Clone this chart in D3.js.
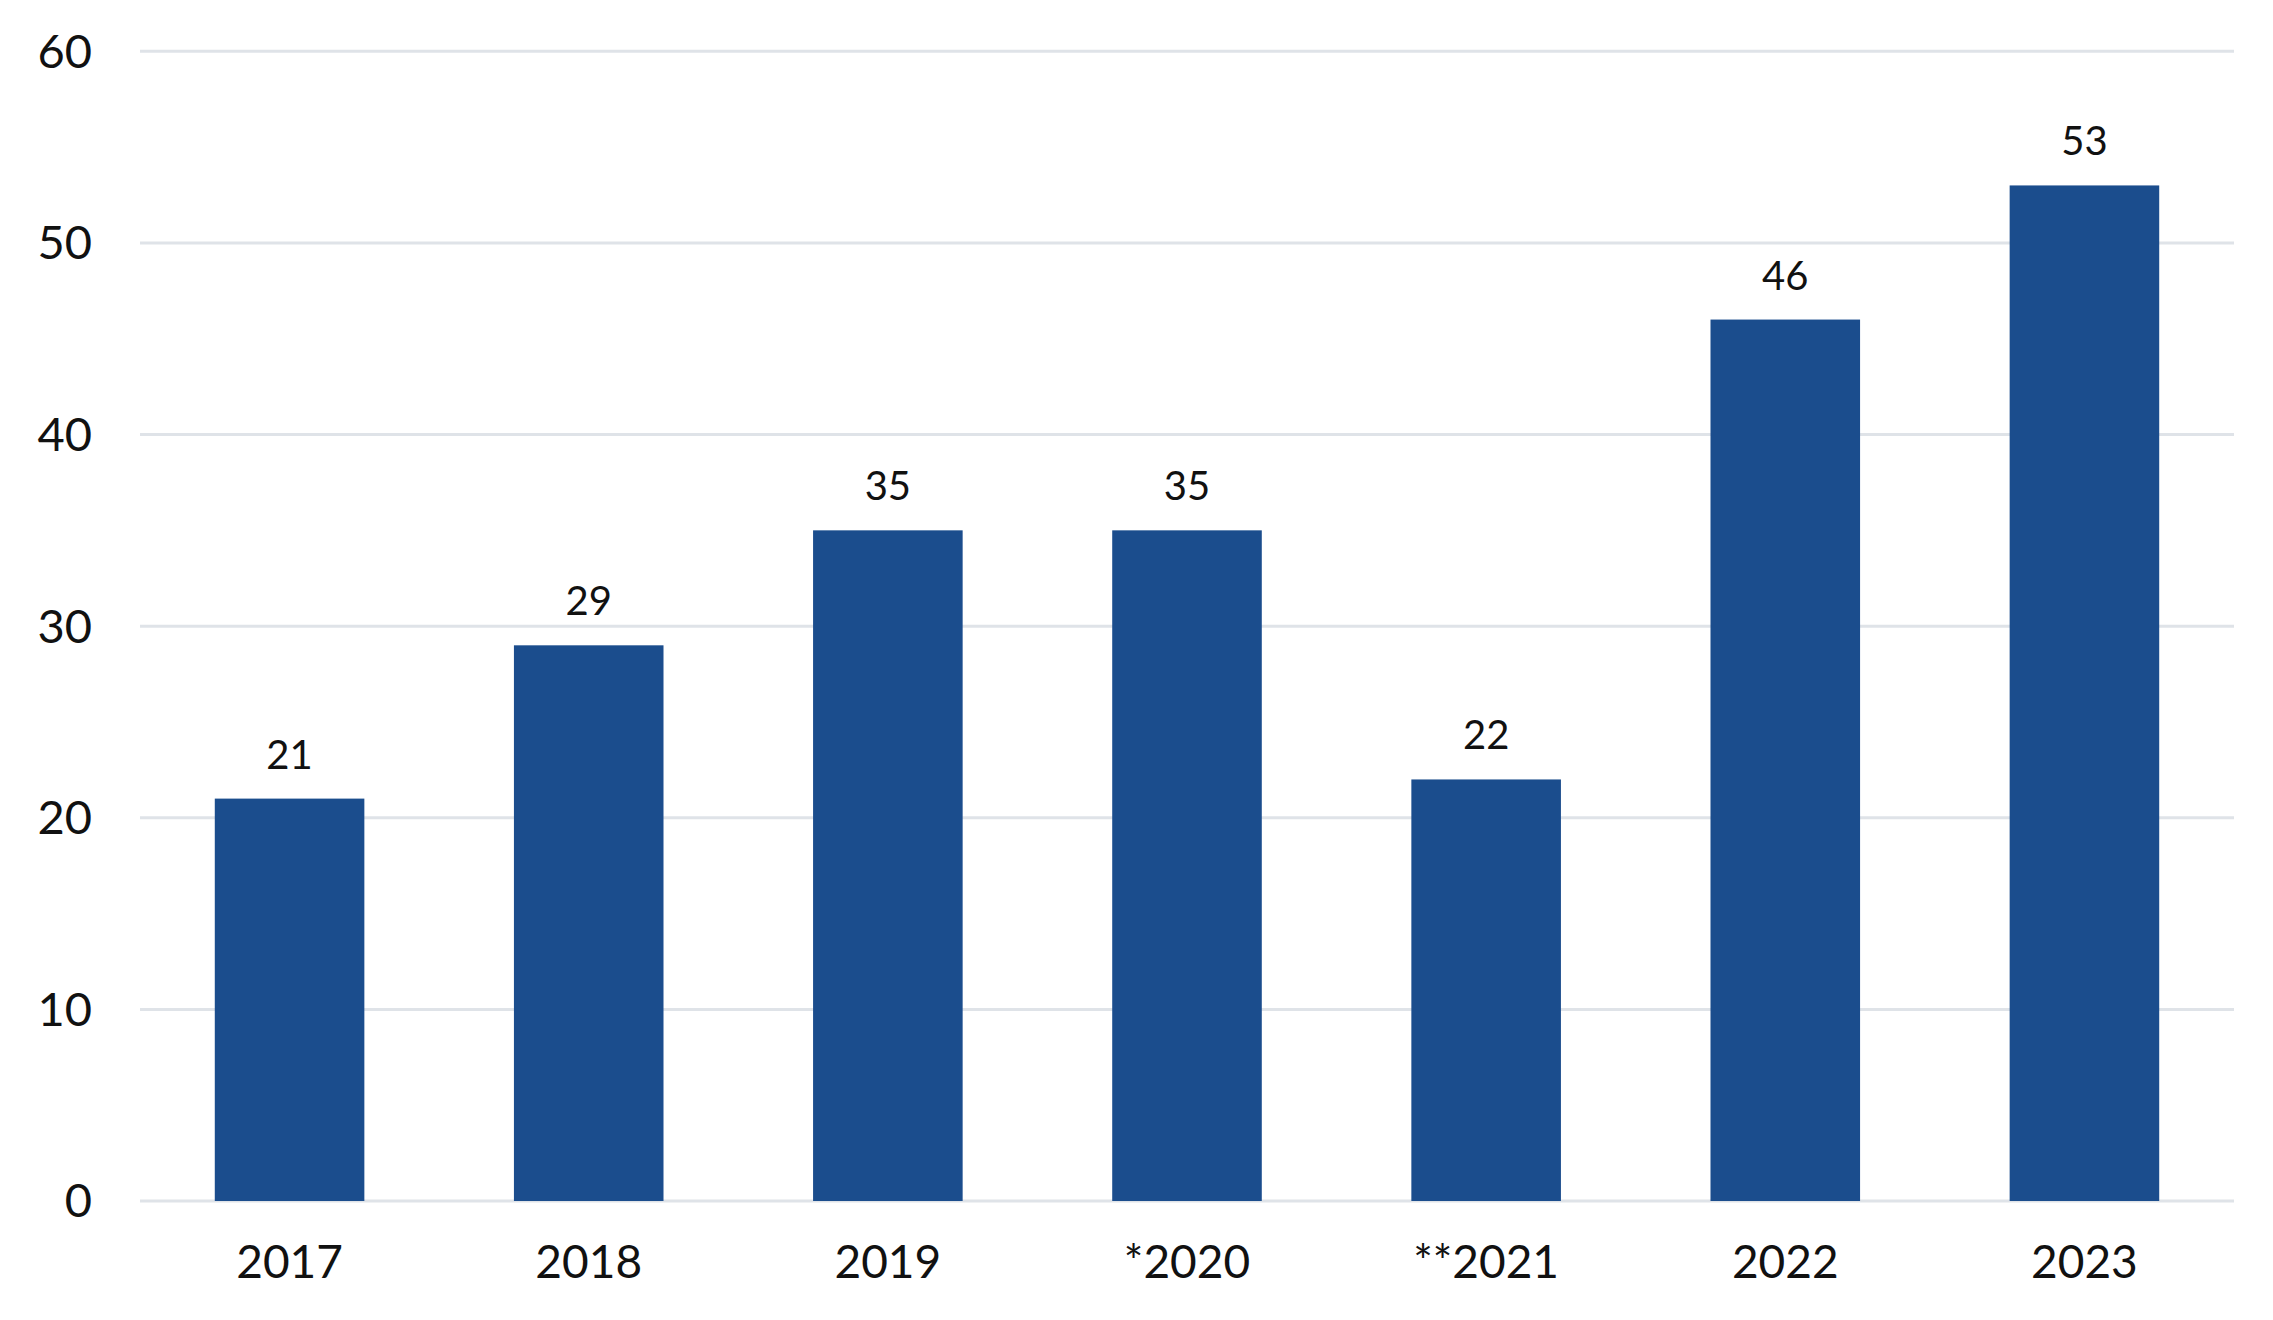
<!DOCTYPE html>
<html><head><meta charset="utf-8">
<script src="https://cdn.jsdelivr.net/npm/d3@7"></script>
<style>html,body{margin:0;padding:0;background:#fff;}svg{display:block;}</style>
</head><body>
<script>
const categories = ["2017","2018","2019","*2020","**2021","2022","2023"];
const values = [21, 29, 35, 35, 22, 46, 53];
const yTicks = [0, 10, 20, 30, 40, 50, 60];

const W = 2273, H = 1320;
const svg = d3.select("body").append("svg").attr("width", W).attr("height", H);
const font = "Lato, 'Open Sans', sans-serif";

const x = d3.scaleBand().domain(categories).range([140, 2234]).paddingInner(0.5).paddingOuter(0.25);
const y = d3.scaleLinear().domain([0, 60]).range([1201, 51.3]);

// gridlines
svg.append("g").selectAll("line").data(yTicks).join("line")
  .attr("x1", 140).attr("x2", 2234)
  .attr("y1", d => y(d)).attr("y2", d => y(d))
  .attr("stroke", "#dfe3e8").attr("stroke-width", 3);

// y labels
svg.append("g").selectAll("text").data(yTicks).join("text")
  .attr("x", 92).attr("y", d => y(d)).attr("dy", "0.35em")
  .attr("text-anchor", "end").attr("font-family", font).attr("font-size", 47)
  .attr("fill", "#111").text(d => d);

// bars
svg.append("g").selectAll("rect").data(values).join("rect")
  .attr("x", (d, i) => x(categories[i])).attr("width", x.bandwidth())
  .attr("y", d => y(d)).attr("height", d => y(0) - y(d))
  .attr("fill", "#1b4d8d");

// value labels
svg.append("g").selectAll("text").data(values).join("text")
  .attr("x", (d, i) => x(categories[i]) + x.bandwidth() / 2)
  .attr("y", d => y(d) - 30)
  .attr("text-anchor", "middle").attr("font-family", font).attr("font-size", 40)
  .attr("fill", "#111").text(d => d);

// x labels
svg.append("g").selectAll("text").data(categories).join("text")
  .attr("x", d => x(d) + x.bandwidth() / 2).attr("y", 1278)
  .attr("text-anchor", "middle").attr("font-family", font).attr("font-size", 46)
  .attr("fill", "#111").text(d => d);
</script>
</body></html>
